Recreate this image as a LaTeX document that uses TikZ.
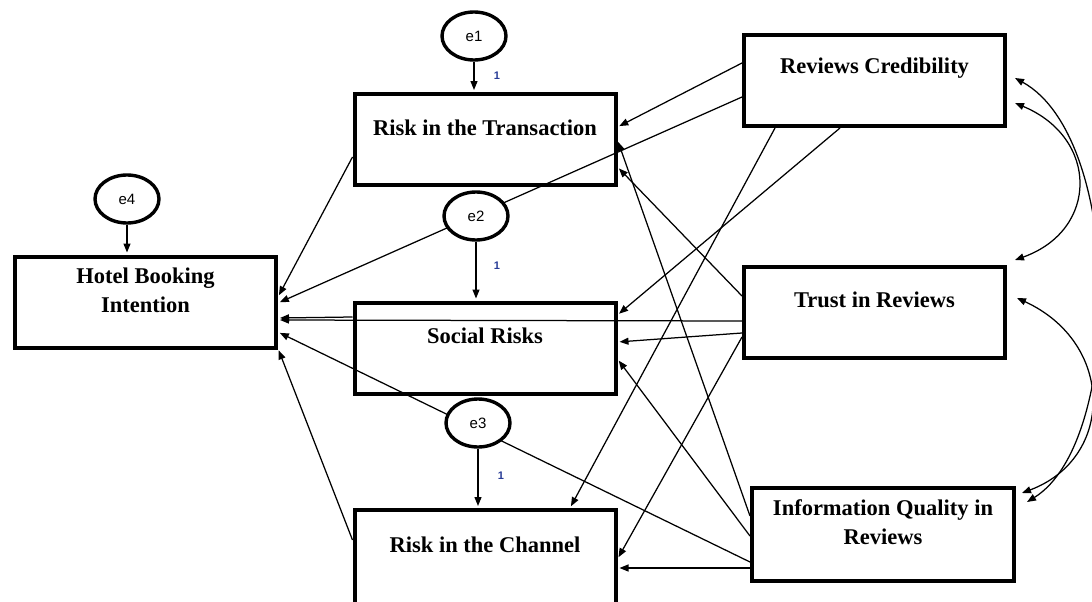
\documentclass[tikz,border=0pt]{standalone}
\usepackage{fontspec}
\setmainfont{Liberation Serif}
\newfontfamily\efont{Liberation Sans}
\usetikzlibrary{arrows.meta,calc,shapes.geometric,backgrounds}
\definecolor{wtblue}{RGB}{40,60,150}
\tikzset{
  var/.style   ={draw,line width=4pt,minimum width=261pt,minimum height=91pt,inner sep=0pt},
  vartxt/.style={font=\fontsize{22.5}{29}\selectfont\bfseries,align=center,yshift=12pt},
  err/.style   ={draw,ellipse,line width=3.4pt,fill=white,minimum width=64pt,minimum height=48pt,
                 inner sep=0pt,font=\efont\fontsize{15}{17}\selectfont},
  ar/.style    ={-{Triangle[length=9pt,width=7pt]},line width=1.25pt,shorten >=2pt},
  cov/.style   ={{Triangle[length=9pt,width=7pt]}-{Triangle[length=9pt,width=7pt]},line width=1.25pt},
  wt/.style    ={font=\efont\bfseries\fontsize{11}{12}\selectfont,text=wtblue},
}

\begin{document}
\begin{tikzpicture}[x=1pt,y=-1pt]
\useasboundingbox (0,0) rectangle (1092,602);
\node[var,label={[vartxt]center:{Hotel Booking\\Intention}}] (HBI) at (145.5,302) {};
\node[var,label={[vartxt]center:Risk in the Transaction}] (RT) at (485,139.5) {};
\node[var,label={[vartxt]center:Social Risks}] (SR) at (485,348) {};
\node[var,minimum height=106pt,label={[vartxt,yshift=6.5pt]center:Risk in the Channel}] (RC) at (485,563) {};
\node[var,label={[vartxt]center:Reviews Credibility}] (RCr) at (874.5,80.5) {};
\node[var,label={[vartxt]center:Trust in Reviews}] (TR) at (874.5,312) {};
\node[var,minimum width=262pt,minimum height=93pt,
      label={[vartxt]center:{Information Quality in\\Reviews}}] (IQ) at (883,534.5) {};
\node[err] (e1) at (474,36) {e1};
\node[err] (e2) at (476,216) {e2};
\node[err] (e3) at (478,423) {e3};
\node[err] (e4) at (127,199) {e4};

\begin{scope}[on background layer]
\draw[ar] ($(RCr.west)+(0,-17.5)$) -- ($(RT.east)+(0,-12.5)$);
\draw[ar] ($(RCr.west)+(0,16.5)$) -- ($(HBI.east)+(0,1)$);
\draw[ar] ($(RCr.south)+(-34.5,0)$) -- ($(SR.east)+(0,-33)$);
\draw[ar] ($(RCr.south)+(-99.5,0)$) -- ($(RC.north)+(85,0)$);
\draw[ar] ($(TR.west)+(0,-16)$) -- ($(RT.east)+(0,27.5)$);
\draw[ar] ($(TR.west)+(0,9)$) -- ($(HBI.east)+(0,18)$);
\draw[ar] ($(TR.west)+(0,21)$) -- ($(SR.east)+(0,-6)$);
\draw[ar] ($(TR.west)+(0,25)$) -- ($(RC.east)+(0,-4)$);
\draw[ar] ($(IQ.west)+(0,-18.5)$) -- ($(RT.east)+(0,0.5)$);
\draw[ar] ($(IQ.west)+(0,1.5)$) -- ($(SR.east)+(0,11)$);
\draw[ar] ($(IQ.west)+(0,27.5)$) -- ($(HBI.east)+(0,30)$);
\draw[ar] ($(IQ.west)+(0,33.5)$) -- ($(RC.east)+(0,5)$);
\draw[ar] ($(RT.west)+(0,17.5)$) -- ($(HBI.east)+(0,-5)$);
\draw[ar] ($(SR.west)+(0,-31)$) -- ($(HBI.east)+(0,16)$);
\draw[ar] ($(RC.west)+(0,-23)$) -- ($(HBI.south east)+(0,-1)$);
\end{scope}

\draw[ar] (e1) -- (e1 |- RT.north) node[wt,pos=.45,xshift=23pt] {1};
\draw[ar] (e2) -- (e2 |- SR.north) node[wt,pos=.4,xshift=21pt] {1};
\draw[ar] (e3) -- (e3 |- RC.north) node[wt,pos=.45,xshift=23pt] {1};
\draw[ar] (e4) -- (e4 |- HBI.north);

\draw[cov] ($(RCr.east)+(8,22.5)$) .. controls +(84,35) and +(84,-30) .. ($(TR.east)+(8,-52)$);
\draw[cov] ($(RCr.east)+(8,-2.5)$) .. controls +(109,60) and +(97,-60) .. ($(IQ.east)+(11,-32.5)$);
\draw[cov] ($(TR.east)+(10,-14)$) .. controls +(98,45) and +(93,-35) .. ($(IQ.east)+(6,-41.5)$);
\end{tikzpicture}
\end{document}
